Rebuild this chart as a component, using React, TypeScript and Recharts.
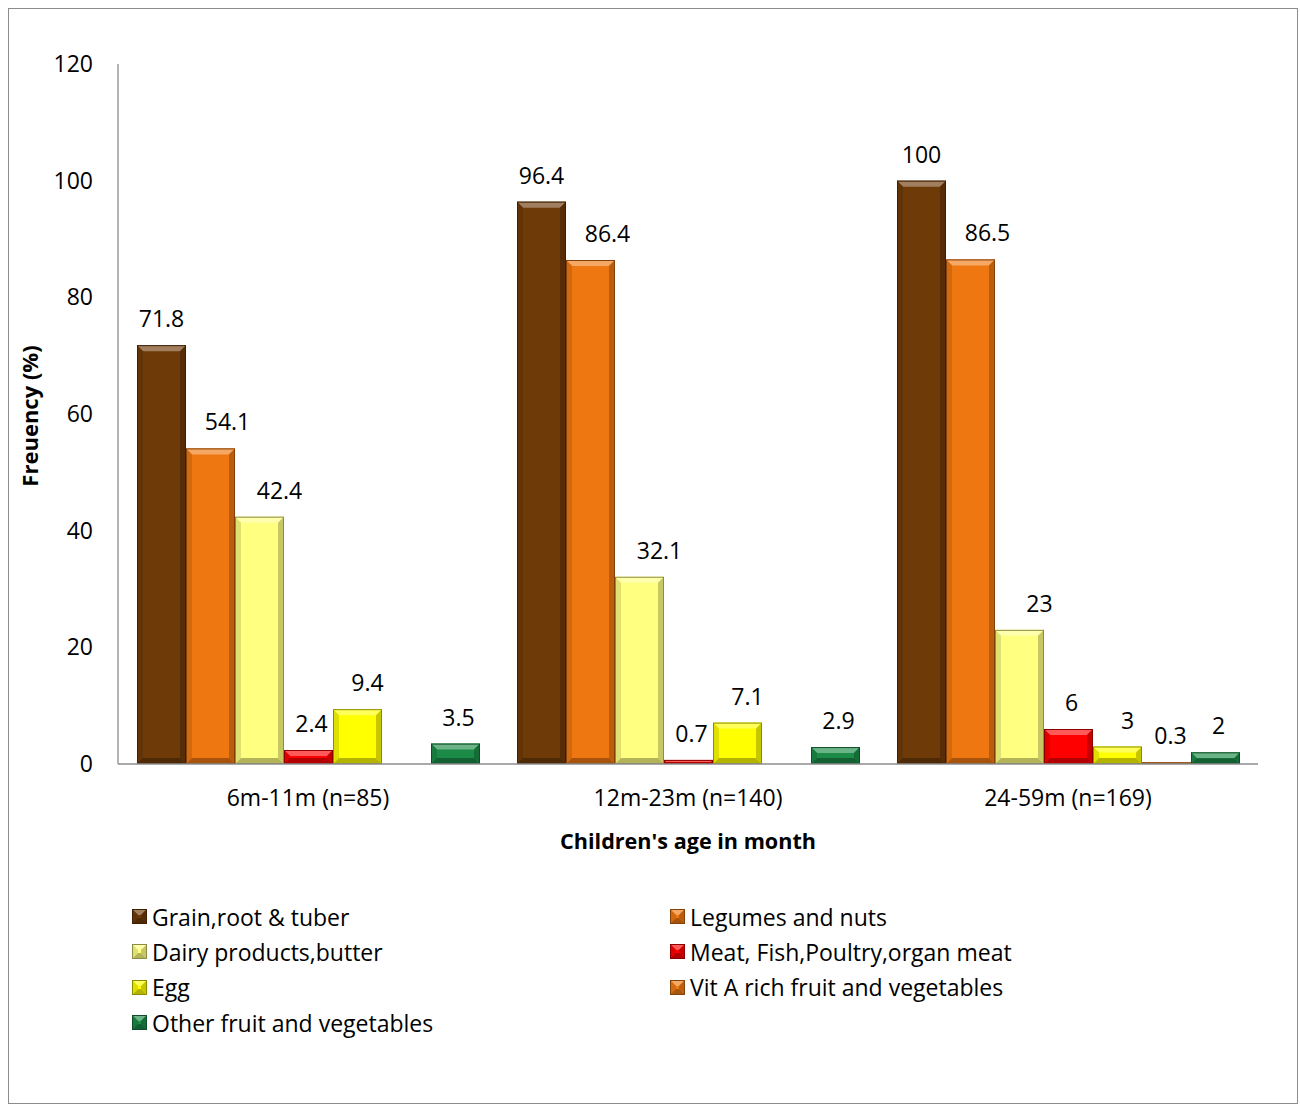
import { BarChart, Bar, XAxis, YAxis, Legend, LabelList } from 'recharts';

const ageGroups = ['6m-11m (n=85)', '12m-23m (n=140)', '24-59m (n=169)'];

const grain = [71.8, 96.4, 100];
const legumes = [54.1, 86.4, 86.5];
const dairy = [42.4, 32.1, 23];
const meat = [2.4, 0.7, 6];
const egg = [9.4, 7.1, 3];
const vitA = [null, null, 0.3];
const otherFruit = [3.5, 2.9, 2];

const yTicks = [0, 20, 40, 60, 80, 100, 120];

// labelDx: Excel nudged most data labels a little to the right
const seriesList = [
  { key: 'grain', name: 'Grain,root & tuber', values: grain, color: '#6E3A08', labelDx: 0 },
  { key: 'legumes', name: 'Legumes and nuts', values: legumes, color: '#EF7711', labelDx: 17 },
  { key: 'dairy', name: 'Dairy products,butter', values: dairy, color: '#FFFF80', labelDx: 20 },
  { key: 'meat', name: 'Meat, Fish,Poultry,organ meat', values: meat, color: '#FF0000', labelDx: 3 },
  { key: 'egg', name: 'Egg', values: egg, color: '#FFFF00', labelDx: 10 },
  { key: 'vitA', name: 'Vit A rich fruit and vegetables', values: vitA, color: '#F07A14', labelDx: 4 },
  { key: 'other', name: 'Other fruit and vegetables', values: otherFruit, color: '#1B8B47', labelDx: 3 },
];

const data = ageGroups.map((name, i) => {
  const row: Record<string, any> = { name };
  seriesList.forEach((s) => {
    row[s.key] = s.values[i];
  });
  return row;
});

const FONT = '"Open Sans", "Noto Sans", sans-serif';
const FS = 23;

function shade(hex: string, amt: number) {
  const n = parseInt(hex.slice(1), 16);
  const mix = (c: number) =>
    Math.round(amt >= 0 ? c + (255 - c) * amt : c * (1 + amt));
  const r = mix((n >> 16) & 255);
  const g = mix((n >> 8) & 255);
  const b = mix(n & 255);
  return `rgb(${r},${g},${b})`;
}

// bevelled bar like the office "3D" look
function BevelBar(props: any) {
  const { x, y, width, height, fill } = props;
  if (!height || height <= 0 || !width) return null;
  const b = Math.min(6, height / 2, width / 2);
  const r = x + width;
  const btm = y + height;
  return (
    <g>
      <rect x={x} y={y} width={width} height={height} fill={fill} />
      <polygon points={`${x},${y} ${r},${y} ${r - b},${y + b} ${x + b},${y + b}`} fill={shade(fill, 0.35)} />
      <polygon points={`${x},${y} ${x + b},${y + b} ${x + b},${btm - b} ${x},${btm}`} fill={shade(fill, -0.12)} />
      <polygon points={`${r},${y} ${r - b},${y + b} ${r - b},${btm - b} ${r},${btm}`} fill={shade(fill, -0.22)} />
      <polygon points={`${x},${btm} ${x + b},${btm - b} ${r - b},${btm - b} ${r},${btm}`} fill={shade(fill, -0.3)} />
      <rect x={x + 0.5} y={y + 0.5} width={width - 1} height={Math.max(height - 1, 0)} fill="none" stroke={shade(fill, -0.45)} strokeWidth={1} />
    </g>
  );
}

function Swatch({ color }: { color: string }) {
  return (
    <svg width={15} height={15} style={{ display: 'block' }}>
      <BevelBar x={0} y={0} width={15} height={15} fill={color} />
    </svg>
  );
}

function renderLegend() {
  return (
    <div
      style={{
        display: 'grid',
        gridTemplateColumns: '538px 538px',
        fontFamily: FONT,
        fontSize: FS,
        color: '#000',
      }}
    >
      {seriesList.map((s) => (
        <div key={s.key} style={{ display: 'flex', alignItems: 'center', height: 35.3, whiteSpace: 'nowrap' }}>
          <Swatch color={s.color} />
          <span style={{ marginLeft: 5 }}>{s.name}</span>
        </div>
      ))}
    </div>
  );
}

export default function App() {
  return (
    <div
      style={{
        position: 'fixed',
        top: 8,
        left: 8,
        width: 1288,
        height: 1094,
        border: '1px solid #8c8c8c',
        background: '#fff',
      }}
    >
      <BarChart
        width={1288}
        height={1094}
        data={data}
        margin={{ top: 55, right: 39, left: 0, bottom: 239 }}
        barCategoryGap="5%"
        barGap={0}
      >
        <YAxis
          width={109}
          domain={[0, 120]}
          ticks={yTicks}
          axisLine={{ stroke: '#8c8c8c', strokeWidth: 1.3 }}
          tickLine={false}
          tickSize={0}
          tickMargin={25}
          tick={{ fill: '#000', fontSize: FS, fontFamily: FONT }}
          label={({ viewBox }: any) => (
            <text
              x={viewBox.x + 20}
              y={viewBox.y + viewBox.height / 2 + 2}
              transform={`rotate(-90 ${viewBox.x + 20} ${viewBox.y + viewBox.height / 2 + 2})`}
              textAnchor="middle"
              dominantBaseline="central"
              fontFamily={FONT}
              fontSize={22}
              fontWeight="bold"
              fill="#000"
            >
              Freuency (%)
            </text>
          )}
        />
        <XAxis
          dataKey="name"
          height={100}
          axisLine={{ stroke: '#8c8c8c', strokeWidth: 1.3 }}
          tickLine={false}
          tickSize={0}
          tickMargin={26}
          tick={{ fill: '#000', fontSize: FS, fontFamily: FONT }}
          label={({ viewBox }: any) => (
            <text
              x={viewBox.x + viewBox.width / 2}
              y={viewBox.y + 76}
              textAnchor="middle"
              dominantBaseline="central"
              fontFamily={FONT}
              fontSize={21.6}
              fontWeight="bold"
              fill="#000"
            >
              Children's age in month
            </text>
          )}
        />
        <Legend
          layout="vertical"
          align="center"
          verticalAlign="middle"
          content={renderLegend}
          wrapperStyle={{ top: 890, left: 123, width: 1100 }}
        />
        {seriesList.map((s) => (
          <Bar
            key={s.key}
            dataKey={s.key}
            name={s.name}
            fill={s.color}
            shape={<BevelBar />}
            isAnimationActive={false}
          >
            <LabelList
              dataKey={s.key}
              position="top"
              offset={18}
              dx={s.labelDx}
              formatter={(v: any) => (v === null || v === undefined ? '' : v)}
              style={{ fill: '#000', fontSize: FS, fontFamily: FONT }}
            />
          </Bar>
        ))}
      </BarChart>
    </div>
  );
}
